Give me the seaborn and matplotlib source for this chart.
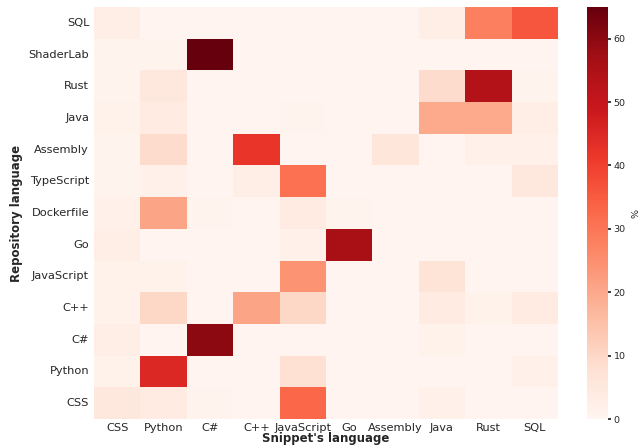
import numpy as np
import pandas as pd
import seaborn as sns
from matplotlib import pyplot as plt

repo_langs = ['SQL', 'ShaderLab', 'Rust', 'Java', 'Assembly', 'TypeScript', 'Dockerfile',
              'Go', 'JavaScript', 'C++', 'C#', 'Python', 'CSS']
snippet_langs = ['CSS', 'Python', 'C#', 'C++', 'JavaScript', 'Go', 'Assembly', 'Java', 'Rust', 'SQL']

# percent of snippets per repository language (rows) by snippet language (cols)
sql_row        = [3.0, 0.5, 0.3, 0.3, 0.5, 0.3, 0.3, 3.0, 28.0, 36.0]
shaderlab_row  = [1.0, 1.0, 65.0, 0.5, 0.5, 0.5, 0.5, 0.5, 0.5, 0.5]
rust_row       = [1.0, 5.0, 0.5, 0.5, 0.5, 0.5, 0.5, 9.0, 54.0, 1.0]
java_row       = [1.5, 4.0, 0.5, 0.5, 1.0, 0.5, 0.5, 20.0, 20.0, 3.0]
assembly_row   = [1.0, 9.0, 0.5, 42.0, 0.5, 0.5, 6.0, 0.5, 2.0, 2.0]
typescript_row = [1.0, 2.0, 0.5, 3.0, 31.0, 0.5, 0.5, 0.5, 0.5, 5.0]
dockerfile_row = [2.0, 21.0, 1.0, 0.5, 4.0, 1.0, 0.5, 0.5, 0.5, 0.5]
go_row         = [3.0, 0.5, 0.5, 0.5, 2.0, 56.0, 0.5, 0.5, 0.5, 0.5]
javascript_row = [1.5, 1.5, 0.5, 0.5, 24.0, 0.3, 0.3, 7.0, 0.5, 0.5]
cpp_row        = [1.5, 10.0, 0.5, 21.0, 10.0, 0.5, 0.5, 4.0, 1.5, 4.0]
csharp_row     = [3.0, 0.5, 60.0, 0.5, 0.5, 0.5, 0.5, 1.5, 0.5, 0.5]
python_row     = [1.5, 45.0, 0.3, 0.3, 8.0, 0.3, 0.3, 0.5, 0.5, 2.0]
css_row        = [5.0, 4.0, 1.0, 0.5, 33.0, 0.5, 0.5, 2.0, 0.5, 0.5]

df = pd.DataFrame([sql_row, shaderlab_row, rust_row, java_row, assembly_row, typescript_row,
                   dockerfile_row, go_row, javascript_row, cpp_row, csharp_row, python_row, css_row],
                  index=repo_langs, columns=snippet_langs)

sns.set_theme(style='white')
plt.rcParams['font.family'] = ['DejaVu Sans']
fig = plt.figure(figsize=(6.43, 4.48), dpi=100)
ax = fig.add_axes([0.1462, 0.0647, 0.7216, 0.9196])
cax = fig.add_axes([0.913, 0.0647, 0.0327, 0.9196])
sns.heatmap(df, cmap='Reds', vmin=0, vmax=65, ax=ax, cbar_ax=cax)
ax.tick_params(axis='both', length=2.5, width=0.8, labelsize=8.2, pad=1)
ax.tick_params(axis='x', rotation=0, pad=0.5)
ax.tick_params(axis='y', rotation=0)
ax.set_xlabel("Snippet's language", fontweight='bold', fontsize=8.5, labelpad=-1)
ax.set_ylabel('Repository language', fontweight='bold', fontsize=8.5, labelpad=4)
cax.tick_params(labelsize=6.8, length=2, pad=2)
cax.set_ylabel('%', fontsize=6.8)
for s in cax.spines.values():
    s.set_visible(False)
plt.savefig('out.png', dpi=100)
